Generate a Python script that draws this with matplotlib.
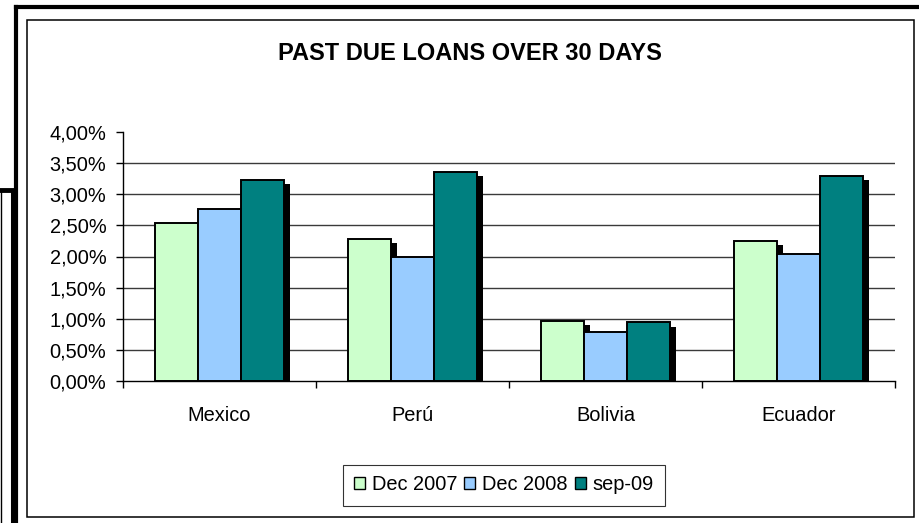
import matplotlib
matplotlib.use('Agg')
import matplotlib.pyplot as plt
import matplotlib.patheffects as pe
from matplotlib.lines import Line2D
from matplotlib.patches import Rectangle
from matplotlib.ticker import FuncFormatter
import numpy as np

plt.rcParams['font.family'] = ['Liberation Sans', 'DejaVu Sans']

countries = ["Mexico", "Perú", "Bolivia", "Ecuador"]
series_names = ["Dec 2007", "Dec 2008", "sep-09"]
dec_2007 = [2.54, 2.28, 0.97, 2.25]
dec_2008 = [2.76, 1.99, 0.79, 2.04]
sep_2009 = [3.23, 3.36, 0.94, 3.30]
colors = ["#CCFFCC", "#99CCFF", "#008080"]
y_ticks = [0.0, 0.5, 1.0, 1.5, 2.0, 2.5, 3.0, 3.5, 4.0]

W, H = 920, 523
fig = plt.figure(figsize=(9.2, 5.23), dpi=100)
ax = fig.add_axes([123 / W, 1 - 381 / H, (895 - 123) / W, (381 - 132) / H])

# frames around the chart (px coordinates converted to figure fractions)
def fline(x0, y0, x1, y1, lw):
    fig.add_artist(Line2D([x0 / W, x1 / W], [1 - y0 / H, 1 - y1 / H],
                          color="black", lw=lw, transform=fig.transFigure,
                          solid_capstyle="projecting"))

fline(16, 7, 925, 7, 3.0)
fline(16, 7, 16, 530, 3.0)
fline(0, 189.5, 13, 189.5, 3.5)
fline(12.5, 189.5, 12.5, 530, 2.2)
fline(0.8, 189.5, 0.8, 530, 1.0)
fig.add_artist(Rectangle((27.5 / W, 1 - 517 / H), (914 - 27.5) / W, (517 - 20) / H,
                         transform=fig.transFigure, fill=False, ec="black", lw=1.1))

x = np.arange(len(countries))
width = 1 / 4.5
shadow = [pe.SimplePatchShadow(offset=(4.3, -3), shadow_rgbFace="black", alpha=1.0),
          pe.Normal()]
for i, (vals, name, c) in enumerate(zip([dec_2007, dec_2008, sep_2009], series_names, colors)):
    bars = ax.bar(x + (i - 1) * width, vals, width, color=c, edgecolor="black",
                  linewidth=1.4, label=name, zorder=3)
    for b in bars:
        b.set_path_effects(shadow)

for v in y_ticks[1:-1]:
    ax.axhline(v, color="#3a3a3a", lw=1.0, zorder=1)

ax.set_xlim(-0.5, 3.5)
ax.set_ylim(0, 4.0)
ax.set_yticks(y_ticks)
ax.yaxis.set_major_formatter(FuncFormatter(lambda v, p: f"{v:.2f}%".replace(".", ",")))
ax.tick_params(axis="y", direction="out", length=5, width=1, pad=7, labelsize=14.4)

ax.set_xticks(x)
ax.set_xticklabels(countries)
ax.tick_params(axis="x", which="major", length=0, pad=18, labelsize=14.4)
ax.set_xticks([-0.5, 0.5, 1.5, 2.5, 3.5], minor=True)
ax.tick_params(axis="x", which="minor", direction="out", length=5, width=1)

for s in ["top", "right"]:
    ax.spines[s].set_visible(False)
for s in ["left", "bottom"]:
    ax.spines[s].set_linewidth(1.0)

fig.text(470 / W, 1 - 54 / H, "PAST DUE LOANS OVER 30 DAYS", ha="center", va="center",
         fontsize=17, fontweight="bold")

handles = [Rectangle((0, 0), 1, 1, fc=c, ec="black", lw=1.0) for c in colors]
leg = fig.legend(handles, series_names, loc="center", bbox_to_anchor=(504 / W, 1 - 485 / H),
                 ncol=3, fontsize=14.4, frameon=True, fancybox=False, handlelength=0.55,
                 handleheight=0.55, handletextpad=0.35, columnspacing=0.35,
                 borderpad=0.55, edgecolor="black")
leg.get_frame().set_linewidth(0.8)

fig.savefig("out.png", dpi=100)
